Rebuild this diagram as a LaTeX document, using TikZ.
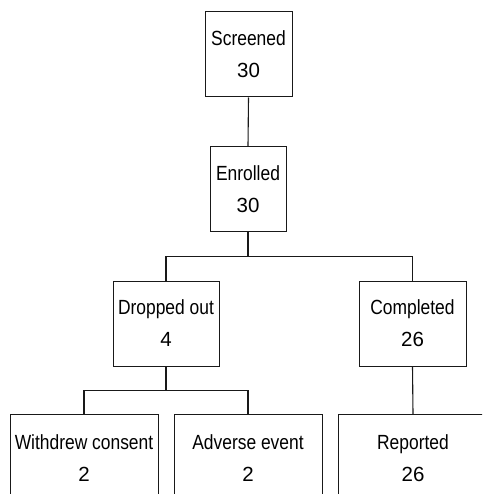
\documentclass[tikz,border=0pt]{standalone}
\usepackage{fontspec}
\setmainfont{Liberation Sans}[FakeStretch=0.85]
\newfontfamily\numfont{Liberation Sans}
\usepackage{tikz}
\usetikzlibrary{positioning, calc}

\begin{document}
\begin{tikzpicture}[x=1pt, y=1pt, -,
  box/.style={draw=black!90, line width=1pt, fill=none, shape=rectangle, align=center, inner sep=0pt,
    minimum height=85pt, font=\fontsize{20.5}{32}\selectfont},
  link/.style={draw=black!90, line width=1.1pt}]
  \useasboundingbox (0,0) rectangle (482,-494);
  \clip (0,0) rectangle (482,-494);

  % top of the chart
  \node[box, minimum width=87pt] (screened) at (248.5,-54.5) {Screened\\{\numfont 30}};
  \node[box, minimum width=76pt] (enrolled) at (248,-189) {Enrolled\\{\numfont 30}};

  % second level
  \node[box, minimum width=106pt] (dropped) at (166,-323.5) {Dropped out\\{\numfont 4}};
  \node[box, minimum width=107pt] (completed) at (412.5,-323.5) {Completed\\{\numfont 26}};

  % bottom row, cut off by the page
  \node[box, minimum width=148pt, minimum height=87pt, anchor=north] (withdrew) at (84,-414) {Withdrew consent\\{\numfont 2}};
  \node[box, minimum width=148pt, minimum height=87pt, anchor=north] (adverse) at (248,-414) {Adverse event\\{\numfont 2}};
  \node[box, minimum width=150pt, minimum height=87pt, anchor=north] (reported) at (413,-414) {Reported\\{\numfont 26}};

  \coordinate (fork1) at ($(enrolled.south)!0.5!(enrolled.south |- dropped.north)$);
  \coordinate (fork2) at ($(dropped.south)!0.5!(dropped.south |- withdrew.north)$);

  \path[link]
    (screened.south) edge (enrolled.north)
    (enrolled.south) edge (fork1)
    (dropped.south) edge (fork2)
    (completed.south) edge (reported.north);
  \draw[link] (dropped.north) |- (fork1) -| (completed.north);
  \draw[link] (withdrew.north) |- (fork2) -| (adverse.north);

\end{tikzpicture}
\end{document}
